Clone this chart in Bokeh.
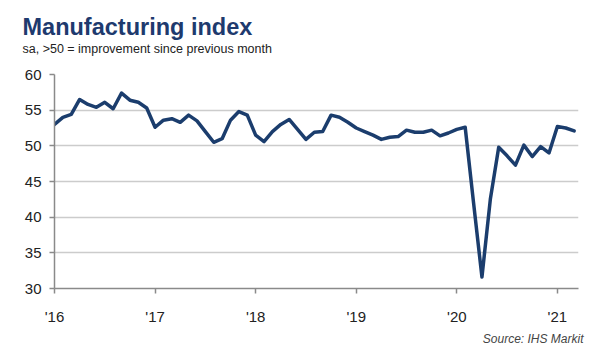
from bokeh.plotting import figure
from bokeh.models import Title, FixedTicker, Range1d
from bokeh.embed import file_html
from bokeh.resources import INLINE

# ---- data (monthly, Jan 2016 .. Mar 2021) ----
start_year = 2016
values_2016 = [53.0, 54.0, 54.4, 56.5, 55.8, 55.4, 56.1, 55.2, 57.4, 56.4, 56.1, 55.3]
values_2017 = [52.6, 53.6, 53.8, 53.3, 54.3, 53.5, 52.0, 50.5, 51.0, 53.6, 54.8, 54.3]
values_2018 = [51.5, 50.6, 52.0, 53.0, 53.7, 52.3, 50.9, 51.9, 52.0, 54.3, 54.0, 53.3]
values_2019 = [52.5, 52.0, 51.5, 50.9, 51.2, 51.3, 52.2, 51.9, 51.9, 52.2, 51.4, 51.8]
values_2020 = [52.3, 52.6, 42.0, 31.6, 42.5, 49.8, 48.6, 47.3, 50.1, 48.5, 49.9, 49.0]
values_2021 = [52.7, 52.5, 52.1]

year_ticks = [2016, 2017, 2018, 2019, 2020, 2021]
year_labels = ["'16", "'17", "'18", "'19", "'20", "'21"]
y_ticks = [30, 35, 40, 45, 50, 55, 60]

values = values_2016 + values_2017 + values_2018 + values_2019 + values_2020 + values_2021
xs = [start_year + i / 12 for i in range(len(values))]

FONT = "Liberation Sans"

p = figure(width=592, height=354, output_backend="svg", toolbar_location=None,
           x_range=Range1d(2016, 2021.21), y_range=Range1d(30, 60),
           title="Manufacturing index",
           min_border_left=54, min_border_right=14, min_border_top=74, min_border_bottom=66)
p.outline_line_color = None
p.background_fill_color = "white"
p.border_fill_color = "white"

# main title (outermost)
p.title.align = "left"
p.title.offset = -32
p.title.standoff = 0
p.title.text_font = FONT
p.title.text_font_style = "bold"
p.title.text_font_size = "23.5px"
p.title.text_color = "#1e3a6e"

# spacer between frame and subtitle
p.add_layout(Title(text=" ", standoff=16, text_font_size="1px"), "above")

# subtitle
p.add_layout(Title(text="sa, >50 = improvement since previous month", align="left",
                   offset=-32, standoff=0, text_font=FONT, text_font_style="normal",
                   text_font_size="12.5px", text_color="#222222"), "above")

# source note
p.add_layout(Title(text="Source: IHS Markit", align="right", offset=-5, standoff=4,
                   text_font=FONT, text_font_style="italic", text_font_size="12px",
                   text_color="#444444"), "below")

p.xgrid.grid_line_color = None
p.ygrid.grid_line_color = "#cccccc"
p.ygrid.grid_line_width = 1.5

p.yaxis.ticker = FixedTicker(ticks=y_ticks)
p.xaxis.ticker = FixedTicker(ticks=year_ticks)
p.xaxis.major_label_overrides = {t: l for t, l in zip(year_ticks, year_labels)}

for ax in (p.xaxis, p.yaxis):
    ax.axis_line_color = "#8a8a8a"
    ax.axis_line_width = 1.5
    ax.major_tick_line_color = "#8a8a8a"
    ax.major_tick_line_width = 1.5
    ax.major_tick_in = 0
    ax.major_tick_out = 5
    ax.minor_tick_line_color = None
    ax.major_label_text_font = FONT
    ax.major_label_text_font_size = "15px"
    ax.major_label_text_color = "#222222"
p.yaxis.major_label_standoff = 8
p.xaxis.major_label_standoff = 14

p.line(xs, values, line_color="#1b3d6d", line_width=3.5, line_join="round", line_cap="round")

open("out.html", "w").write(file_html(p, INLINE))
